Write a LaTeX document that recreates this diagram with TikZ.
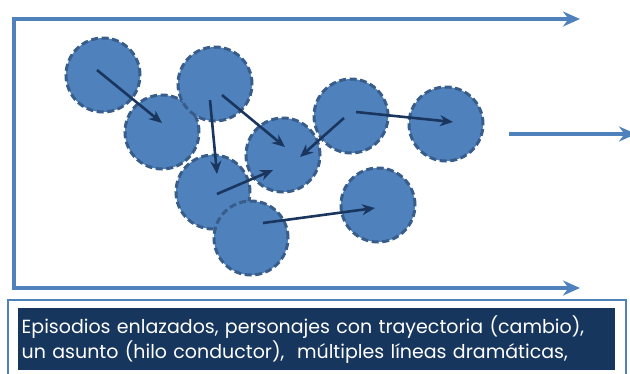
\documentclass[tikz,border=0pt]{standalone}
\usepackage{fontspec}
\newfontfamily\storyfont{Poppins}
\usepackage{xcolor}
\usetikzlibrary{positioning, arrows.meta}

\definecolor{episodeblue}{RGB}{79,129,189}
\definecolor{episodeedge}{RGB}{56,93,138}
\definecolor{linknavy}{RGB}{26,54,94}
\definecolor{boxnavy}{RGB}{23,54,93}

\begin{document}
\begin{tikzpicture}[
    x=1pt, y=-1pt,
    episode/.style={draw=episodeedge, fill=episodeblue, circle, minimum size=74pt, line width=3pt, dash pattern=on 7pt off 3.5pt}, % dashed episode bubbles
    linkarrow/.style={-{Stealth[length=13pt, width=11pt]}, line width=2.6pt, draw=linknavy},
    timearrow/.style={-{Stealth[length=17pt, width=15pt]}, line width=3.5pt, draw=episodeblue},
    storybox/.style={fill=boxnavy, text=white, anchor=north west, minimum width=597pt, minimum height=62pt, text width=590pt, align=left, inner xsep=3pt, inner ysep=4pt, font=\storyfont\fontsize{19}{25}\selectfont}
]
\useasboundingbox (0,0) rectangle (630,373);

% Time frame (left side and two long arrows)
\coordinate (topend) at (580,19);
\coordinate (topleft) at (14,19);
\coordinate (bottomleft) at (14,288);
\coordinate (bottomend) at (580,288);
\draw[timearrow, {Stealth[length=17pt, width=15pt]}-{Stealth[length=17pt, width=15pt]}, line join=miter] (topend) -- (topleft) -- (bottomleft) -- (bottomend);

% Arrow on the right
\coordinate (midstart) at (509,134);
\coordinate (midend) at (636,134);
\draw[timearrow] (midstart) -- (midend);

% Episodes
\node[episode] (a) at (103,75) {};
\node[episode] (b) at (162,132) {};
\node[episode] (c) at (215,84) {};
\node[episode] (e) at (213,192) {};
\node[episode] (d) at (283,155) {};
\node[episode] (f) at (251,238) {};
\node[episode] (g) at (351,116) {};
\node[episode] (h) at (446,124) {};
\node[episode] (i) at (378,205) {};

% Links between episodes
\draw[linkarrow] ([shift={(-6,-5)}]a.center) -- ([shift={(0,-9)}]b.center);
\draw[linkarrow] ([shift={(-5,16)}]c.center) -- ([shift={(4,-18)}]e.center);
\draw[linkarrow] ([shift={(7,11)}]c.center) -- ([shift={(2,-8)}]d.center);
\draw[linkarrow] ([shift={(-7,2)}]g.center) -- ([shift={(17,2)}]d.center);
\draw[linkarrow] ([shift={(5,-4)}]g.center) -- ([shift={(7,-2)}]h.center);
\draw[linkarrow] ([shift={(4,2)}]e.center) -- ([shift={(-10,15)}]d.center);
\draw[linkarrow] ([shift={(12,-15)}]f.center) -- ([shift={(-3,3)}]i.center);

% Caption box
\draw[draw=episodeblue, line width=2pt] (8,300) rectangle (626,380);
\node[storybox] (story) at (18,308) {Episodios enlazados, personajes con trayectoria (cambio),\\un asunto (hilo conductor),\ \ múltiples líneas dramáticas,};

\end{tikzpicture}
\end{document}
